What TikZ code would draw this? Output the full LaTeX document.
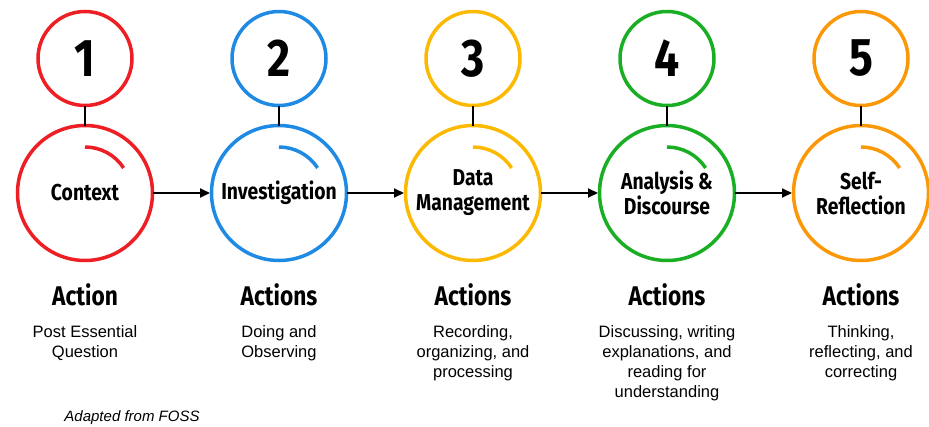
\documentclass[tikz,border=0pt]{standalone}
\usepackage{fontspec}
\setmainfont{Liberation Sans}
\newfontfamily\headfont[FakeStretch=0.84]{Fira Sans}
\usetikzlibrary{positioning,arrows.meta}

\definecolor{stepred}{RGB}{237,30,36}
\definecolor{stepblue}{RGB}{30,138,228}
\definecolor{stepgold}{RGB}{252,185,2}
\definecolor{stepgreen}{RGB}{26,174,36}
\definecolor{steporange}{RGB}{251,152,8}

\begin{document}
\begin{tikzpicture}[x=1pt, y=1pt, node distance=59pt,
    stage/.style={circle, draw=#1, line width=3.5pt, minimum size=135pt,
      inner sep=0pt, outer sep=0pt, align=center,
      font=\headfont\bfseries\fontsize{23}{25}\selectfont,
      path picture={\draw[#1, line width=3.5pt]
        ([shift={(90:46pt)}]path picture bounding box.center)
        arc[start angle=90, end angle=33, radius=46pt];}},
    num/.style={circle, draw=#1, line width=3.5pt, minimum size=94pt,
      inner sep=0pt, outer sep=0pt,
      font=\headfont\bfseries\fontsize{53}{53}\selectfont},
    head/.style={inner sep=0pt, font=\headfont\bfseries\fontsize{27}{30}\selectfont},
    body/.style={inner sep=0pt, align=center, font=\fontsize{16.5}{20}\selectfont},
    link/.style={line width=2pt},
    flow/.style={line width=2pt, shorten >=1.5pt, -{Triangle[length=10pt,width=9pt]}}]
    \useasboundingbox (0,0) rectangle (929,-426);

    % the five stages
    \node[stage=stepred] (ctx) at (85,-193) {Context};
    \node[stage=stepblue, right=of ctx] (inv) {Investigation};
    \node[stage=stepgold, right=of inv] (data) {Data\\Management};
    \node[stage=stepgreen, right=of data] (ana) {Analysis \&\\Discourse};
    \node[stage=steporange, right=of ana] (self) {Self-\\Reflection};

    % numbers
    \node[num=stepred, above=20pt of ctx] (n1) {1};
    \node[num=stepblue, above=20pt of inv] (n2) {2};
    \node[num=stepgold, above=20pt of data] (n3) {3};
    \node[num=stepgreen, above=20pt of ana] (n4) {4};
    \node[num=steporange, above=20pt of self] (n5) {5};

    \draw[link] (n1) -- (ctx);
    \draw[link] (n2) -- (inv);
    \draw[link] (n3) -- (data);
    \draw[link] (n4) -- (ana);
    \draw[link] (n5) -- (self);

    \draw[flow] (ctx) -- (inv);
    \draw[flow] (inv) -- (data);
    \draw[flow] (data) -- (ana);
    \draw[flow] (ana) -- (self);

    % actions
    \node[head, below=23pt of ctx] (act1) {Action};
    \node[head, below=23pt of inv] (act2) {Actions};
    \node[head, below=23pt of data] (act3) {Actions};
    \node[head, below=23pt of ana] (act4) {Actions};
    \node[head, below=23pt of self] (act5) {Actions};

    \node[body, below=19pt of act1] (txt1) {Post Essential\\Question};
    \node[body, below=19pt of act2] (txt2) {Doing and\\Observing};
    \node[body, below=19pt of act3] (txt3) {Recording,\\organizing, and\\processing};
    \node[body, below=19pt of act4] (txt4) {Discussing, writing\\explanations, and\\reading for\\understanding};
    \node[body, below=19pt of act5] (txt5) {Thinking,\\reflecting, and\\correcting};

    \node[inner sep=0pt, font=\itshape\fontsize{15}{18}\selectfont] (src) at (132,-418) {Adapted from FOSS};
\end{tikzpicture}
\end{document}
